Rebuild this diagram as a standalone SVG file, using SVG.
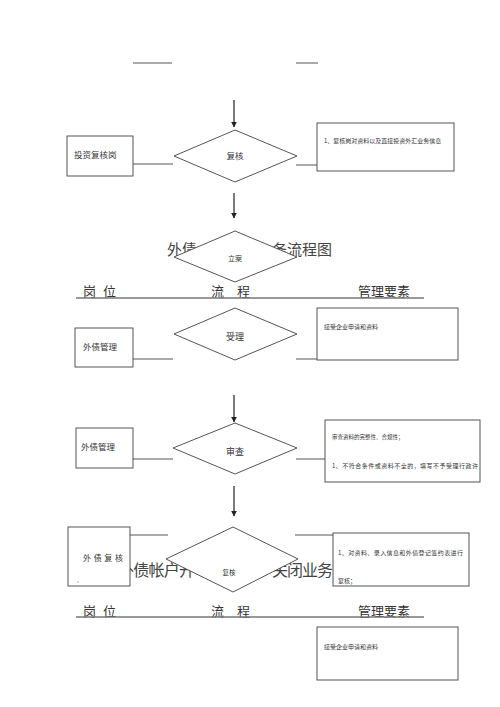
<svg xmlns="http://www.w3.org/2000/svg" width="500" height="707" viewBox="0 0 500 707">
<style>
text{font-family:"Noto Sans CJK SC","Liberation Sans",sans-serif;fill:#333}
.box{fill:#fff;stroke:#555;stroke-width:1}
.dia{fill:#fff;stroke:#555;stroke-width:1}
.ln{stroke:#555;stroke-width:1;fill:none}
.arr{stroke:#222;stroke-width:1.2;fill:none;marker-end:url(#ah)}
.hdr{stroke:#777;stroke-width:1.5}
.title{font-size:15px;fill:#444}
.title2{font-size:16px;fill:#444}
.head{font-size:13px;fill:#333}
.lab{font-size:8.5px}
.note{font-size:6px}
</style>
<defs>
<marker id="ah" viewBox="0 0 10 10" refX="9" refY="5" markerWidth="5" markerHeight="5" orient="auto">
<path d="M0,0 L10,5 L0,10 z" fill="#222"/>
</marker>
</defs>
<rect width="500" height="707" fill="#fff"/>

<!-- titles and headers (partly covered by shapes, as in the picture) -->
<g id="title1">
<text class="title" x="167" y="255" textLength="30">外债</text>
<text class="title" x="272" y="255" textLength="60">务流程图</text>
</g>
<g id="title2">
<text class="title2" x="118" y="576" textLength="77">外债帐户开</text>
<text class="title2" x="272" y="576" textLength="61">关闭业务</text>
</g>
<g id="header1">
<text class="head" x="83" y="296">岗<tspan x="103">位</tspan></text>
<text class="head" x="211" y="296">流<tspan x="237">程</tspan></text>
<text class="head" x="358" y="296">管理要素</text>
<line class="hdr" x1="76" y1="298" x2="424" y2="298"/>
</g>
<g id="header2">
<text class="head" x="83" y="616">岗<tspan x="103">位</tspan></text>
<text class="head" x="211" y="616">流<tspan x="237">程</tspan></text>
<text class="head" x="358" y="616">管理要素</text>
<line class="hdr" x1="76" y1="617" x2="424" y2="617"/>
</g>

<g id="connectors">
<line class="ln" x1="133" y1="63" x2="172" y2="63"/>
<line class="ln" x1="296" y1="63" x2="318" y2="63"/>
<line class="arr" x1="234" y1="100" x2="234" y2="127"/>
<line class="ln" x1="133" y1="164" x2="173" y2="164"/>
<line class="ln" x1="296" y1="165" x2="317" y2="165"/>
<line class="arr" x1="234" y1="193" x2="234" y2="218"/>
<line class="ln" x1="133" y1="359" x2="173" y2="359"/>
<line class="ln" x1="296" y1="359" x2="317" y2="359"/>
<line class="arr" x1="234" y1="395" x2="234" y2="422"/>
<line class="ln" x1="133" y1="459" x2="173" y2="459"/>
<line class="ln" x1="296" y1="459" x2="325" y2="459"/>
<line class="arr" x1="234" y1="486" x2="234" y2="516"/>
<line class="ln" x1="130" y1="535" x2="168" y2="535"/>
<line class="ln" x1="295" y1="535" x2="333" y2="535"/>
</g>

<!-- section 1 -->
<g id="d-fuhe1">
<polygon class="dia" points="235,130 297,156 235,182 174,156"/>
<text class="lab" x="235" y="159" text-anchor="middle">复核</text>
</g>
<g id="b-touzi">
<rect class="box" x="67" y="136" width="66" height="40"/>
<text class="lab" x="74" y="158">投资复核岗</text>
</g>
<g id="n-fuhe1">
<rect class="box" x="317" y="123" width="137" height="48"/>
<text class="note" x="324" y="143">1、复核岗对资料以及直接投资外汇业务信息</text>
</g>

<g id="d-lian">
<polygon class="dia" points="235,231 297,257 235,282 174,257"/>
<text x="235" y="261" text-anchor="middle" style="font-size:7px">立案</text>
</g>

<!-- section 2 -->
<g id="d-shouli">
<polygon class="dia" points="235,308 297,334 235,360 174,334"/>
<text class="lab" x="235" y="340" text-anchor="middle" style="font-size:9px">受理</text>
</g>
<g id="b-guanli1">
<rect class="box" x="75" y="328" width="58" height="39"/>
<text class="lab" x="83" y="350">外债管理</text>
</g>
<g id="n-shouli">
<rect class="box" x="317" y="308" width="141" height="52"/>
<text class="note" x="324" y="329">接受企业申请和资料</text>
</g>

<g id="d-shencha">
<polygon class="dia" points="235,423 297,448 235,474 173,448"/>
<text class="lab" x="235" y="455" text-anchor="middle" style="font-size:9px">审查</text>
</g>
<g id="b-guanli2">
<rect class="box" x="76" y="428" width="57" height="40"/>
<text class="lab" x="81" y="450">外债管理</text>
</g>
<g id="n-shencha">
<rect class="box" x="325" y="420" width="155" height="62"/>
<text class="note" x="332" y="439" style="font-size:5.5px">审查资料的完整性、合规性；</text>
<text class="note" x="332" y="468" textLength="146">1、不符合条件或资料不全的，填写不予受理行政许</text>
</g>

<!-- section 3 -->
<g id="b-fuhe2">
<rect class="box" x="68" y="527" width="62" height="59"/>
<text class="lab" x="83" y="561" textLength="40" style="font-size:8px">外债复核</text>
<circle cx="78" cy="582" r="0.6" fill="#555"/>
</g>
<g id="d-fuhe2">
<polygon class="dia" points="233,527 298,559 233,592 166,559"/>
<text x="229" y="575" text-anchor="middle" style="font-size:6.5px">复核</text>
</g>
<g id="n-fuhe2">
<rect class="box" x="333" y="533" width="136" height="53"/>
<text class="note" x="338" y="555" textLength="125">1、对资料、录入信息和外债登记签约表进行</text>
<text class="note" x="338" y="583">复核；</text>
</g>

<g id="n-shouli2">
<rect class="box" x="317" y="627" width="141" height="53"/>
<text class="note" x="324" y="649">接受企业申请和资料</text>
</g>
</svg>
